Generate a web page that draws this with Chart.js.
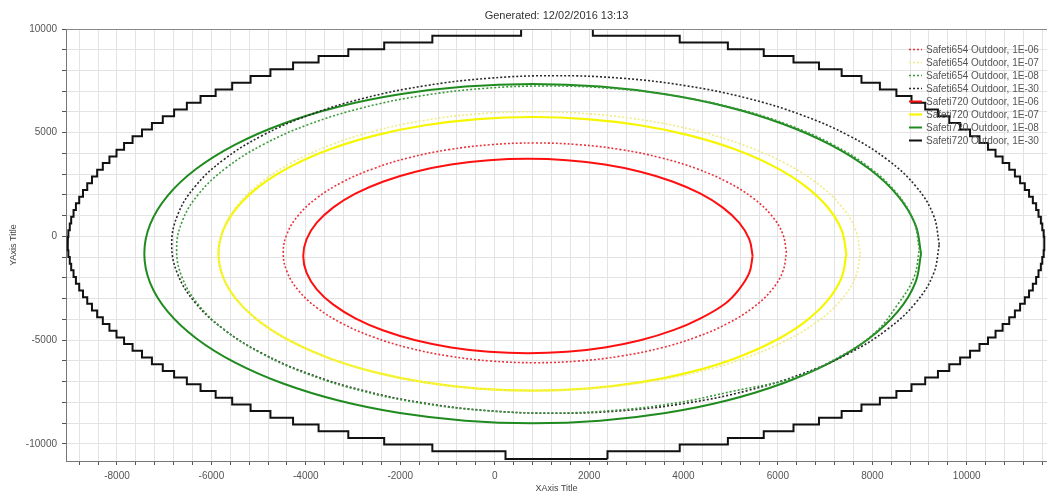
<!DOCTYPE html>
<html>
<head>
<meta charset="utf-8">
<script src="https://cdn.jsdelivr.net/npm/chart.js@4.4.0/dist/chart.umd.min.js"></script>
<style>
html,body{margin:0;padding:0;background:#fff;overflow:hidden}
#wrap{position:relative;width:1047px;height:493px}
</style>
</head>
<body>
<div id="wrap"><canvas id="c"></canvas></div>
<script>
// ---------- text ----------
const chartTitle = 'Generated: 12/02/2016 13:13';
const xAxisTitle = 'XAxis Title';
const yAxisTitle = 'YAxis Title';
const seriesNames = [
  'Safeti654 Outdoor, 1E-06',
  'Safeti654 Outdoor, 1E-07',
  'Safeti654 Outdoor, 1E-08',
  'Safeti654 Outdoor, 1E-30',
  'Safeti720 Outdoor, 1E-06',
  'Safeti720 Outdoor, 1E-07',
  'Safeti720 Outdoor, 1E-08',
  'Safeti720 Outdoor, 1E-30'
];
const xTickLabels = [-8000, -6000, -4000, -2000, 0, 2000, 4000, 6000, 8000, 10000];
const yTickLabels = [-10000, -5000, 0, 5000, 10000];
// axis ranges and grid spacing
const xRange = [-9080, 11700], xGridStep = 400;
const yRange = [-10820, 10000], yGridStep = 1000;

// ---------- contour data ----------
const s654e06X = [6182, 6101, 5861, 5468, 4935, 4278, 3517, 2675, 1777, 852, -73, -971, -1813, -2574, -3231, -3764, -4157, -4397, -4478, -4397, -4157, -3764, -3231, -2574, -1813, -971, -73, 852, 1777, 2675, 3517, 4278, 4935, 5468, 5861, 6101, 6182];
const s654e06Y = [-788, 131, 1023, 1859, 2615, 3267, 3797, 4187, 4426, 4506, 4426, 4187, 3797, 3267, 2615, 1859, 1023, 131, -788, -1707, -2599, -3435, -4191, -4843, -5373, -5763, -6002, -6082, -6002, -5763, -5373, -4843, -4191, -3435, -2599, -1707, -788];

const s654e07X = [7745, 7639, 7326, 6814, 6120, 5264, 4273, 3175, 2006, 800, -354, -1474, -2525, -3475, -4294, -4959, -5449, -5749, -5850, -5749, -5449, -4959, -4294, -3475, -2525, -1474, -354, 800, 2006, 3175, 4273, 5264, 6120, 6814, 7326, 7639, 7745];
const s654e07Y = [-836, 353, 1507, 2589, 3567, 4411, 5096, 5601, 5910, 6014, 5910, 5601, 5096, 4411, 3567, 2589, 1507, 353, -836, -1981, -3091, -4134, -5075, -5888, -6547, -7033, -7331, -7431, -7331, -7033, -6547, -5888, -5075, -4134, -3091, -1981, -836];

const s654e08X = [8997, 8877, 8523, 7943, 7156, 6187, 5064, 3821, 2496, 1130, -236, -1561, -2804, -3927, -4896, -5683, -6263, -6617, -6737, -6617, -6263, -5683, -4896, -3927, -2804, -1561, -236, 1130, 2496, 3821, 5064, 6350, 7300, 8050, 8523, 8877, 8997];
const s654e08Y = [-626, 742, 2069, 3314, 4439, 5410, 6198, 6779, 7134, 7254, 7134, 6779, 6198, 5410, 4439, 3314, 2069, 742, -626, -1994, -3321, -4566, -5691, -6662, -7450, -8031, -8386, -8506, -8386, -8031, -7450, -6800, -5800, -4650, -3321, -1994, -626];

const s654e30X = [9419, 9295, 8929, 8330, 7517, 6515, 5354, 4069, 2700, 1289, -122, -1491, -2776, -3937, -4939, -5752, -6351, -6717, -6841, -6717, -6351, -5752, -4939, -3937, -2776, -1491, -122, 1289, 2700, 4069, 5354, 6515, 7517, 8330, 8929, 9295, 9419];
const s654e30Y = [-385, 1027, 2397, 3683, 4844, 5846, 6660, 7259, 7626, 7750, 7626, 7259, 6660, 5846, 4844, 3683, 2397, 1027, -385, -1797, -3167, -4453, -5614, -6616, -7430, -8029, -8396, -8520, -8396, -8029, -7430, -6616, -5614, -4453, -3167, -1797, -385];

const s720e06X = [5465, 5393, 5178, 4827, 4351, 3765, 3085, 2333, 1531, 705, -121, -923, -1675, -2355, -2941, -3417, -3768, -3983, -4055, -3983, -3768, -3417, -2941, -2355, -1675, -923, -121, 705, 1531, 2333, 3085, 3800, 4351, 4880, 5178, 5393, 5465];
const s720e06Y = [-940, -126, 664, 1405, 2075, 2653, 3122, 3467, 3679, 3750, 3679, 3467, 3122, 2653, 2075, 1405, 664, -126, -940, -1754, -2544, -3285, -3955, -4533, -5002, -5347, -5559, -5630, -5559, -5347, -5002, -4500, -3955, -3240, -2544, -1754, -940];

const s720e07X = [7450, 7349, 7049, 6559, 5894, 5075, 4125, 3074, 1954, 800, -354, -1474, -2525, -3475, -4294, -4959, -5449, -5749, -5850, -5749, -5449, -4959, -4294, -3475, -2525, -1474, -354, 800, 1954, 3074, 4125, 5075, 5894, 6559, 7049, 7349, 7450];
const s720e07Y = [-836, 309, 1419, 2462, 3403, 4216, 4875, 5361, 5659, 5759, 5659, 5361, 4875, 4216, 3403, 2462, 1419, 309, -836, -1981, -3091, -4134, -5075, -5888, -6547, -7033, -7331, -7431, -7331, -7033, -6547, -5888, -5075, -4134, -3091, -1981, -836];

const s720e08X = [9033, 8908, 8537, 7931, 7108, 6094, 4920, 3620, 2234, 806, -622, -2008, -3308, -4482, -5496, -6319, -6925, -7296, -7421, -7296, -6925, -6319, -5496, -4482, -3308, -2008, -622, 806, 2234, 3620, 4920, 6094, 7108, 7931, 8537, 8908, 9033];
const s720e08Y = [-826, 593, 1970, 3262, 4429, 5436, 6254, 6856, 7225, 7349, 7225, 6856, 6254, 5436, 4429, 3262, 1970, 593, -826, -2245, -3622, -4914, -6081, -7088, -7906, -8508, -8877, -9001, -8877, -8508, -7906, -7088, -6081, -4914, -3622, -2245, -826];

// Safeti720 1E-30: grid contour, one horizontal run per y level (left and right end of the run)
const s720e30RowY = [-10720, -10353, -10030, -9707, -9384, -9061, -8738, -8415, -8092, -7769, -7446, -7123, -6800, -6477, -6154, -5831, -5508, -5185, -4862, -4539, -4216, -3893, -3570, -3247, -2924, -2601, -2278, -1955, -1632, -1309, -986, -663, -340, -17, 306, 629, 952, 1275, 1598, 1921, 2244, 2567, 2890, 3213, 3536, 3859, 4182, 4505, 4828, 5151, 5474, 5797, 6120, 6443, 6766, 7089, 7412, 7735, 8058, 8381, 8704, 9027, 9350, 9673, 9996];
const s720e30RowL = [230, -1320, -2340, -3100, -3730, -4270, -4750, -5170, -5560, -5910, -6230, -6520, -6790, -7030, -7260, -7470, -7670, -7850, -8010, -8160, -8300, -8420, -8530, -8630, -8720, -8800, -8870, -8920, -8970, -9000, -9030, -9040, -9050, -9040, -9030, -9000, -8970, -8920, -8870, -8800, -8720, -8630, -8530, -8420, -8300, -8160, -8010, -7850, -7670, -7470, -7260, -7030, -6790, -6520, -6230, -5910, -5560, -5170, -4750, -4270, -3730, -3100, -2340, -1320, 560];
const s720e30RowR = [2390, 3920, 4940, 5700, 6330, 6870, 7350, 7770, 8160, 8510, 8830, 9120, 9390, 9630, 9860, 10070, 10270, 10450, 10610, 10760, 10900, 11020, 11130, 11230, 11320, 11400, 11470, 11520, 11570, 11600, 11630, 11640, 11650, 11640, 11630, 11600, 11570, 11520, 11470, 11400, 11320, 11230, 11130, 11020, 10900, 10760, 10610, 10450, 10270, 10070, 9860, 9630, 9390, 9120, 8830, 8510, 8160, 7770, 7350, 6870, 6330, 5700, 4940, 3920, 2080];

// ---------- build datasets ----------
function pts(xs, ys) { return xs.map((x, i) => ({x: x, y: ys[i]})); }
// staircase outline through the ends of the horizontal runs (riser at the inner end)
function innerCorner(a, b, pickMin) {
  const aInner = pickMin ? a.x <= b.x : a.x >= b.x;
  return aInner ? {x: a.x, y: b.y} : {x: b.x, y: a.y};
}
function rowsToStairs(ys, ls, rs) {
  const right = ys.map((y, i) => ({x: rs[i], y: y}));
  const left = ys.map((y, i) => ({x: ls[i], y: y})).reverse();
  const out = [right[0]];
  for (let i = 1; i < right.length; i++) { out.push(innerCorner(right[i - 1], right[i], true)); out.push(right[i]); }
  out.push(left[0]);
  for (let i = 1; i < left.length; i++) { out.push(innerCorner(left[i - 1], left[i], false)); out.push(left[i]); }
  out.push(right[0]);
  return out;
}
function labelFor(list) {
  return function (v) {
    const r = Math.round(Number(v));
    return (Math.abs(Number(v) - r) < 0.5 && list.indexOf(r) !== -1) ? String(r) : '';
  };
}
function gridTicks(range, step) {
  const out = [];
  for (let v = Math.ceil(range[0] / step) * step; v <= range[1]; v += step) out.push({value: v});
  return out;
}

const FONT = "'Liberation Sans', Arial, sans-serif";
const styles = [
  {color: '#e8343c', width: 1.6, dash: [2, 2]},
  {color: '#f0ec86', width: 1.6, dash: [2, 2]},
  {color: '#3c9a3c', width: 1.6, dash: [2, 2]},
  {color: '#2a2a2a', width: 1.6, dash: [2, 2]},
  {color: '#ff1010', width: 2, dash: []},
  {color: '#f6f600', width: 2.2, dash: []},
  {color: '#1f8b1f', width: 2, dash: []},
  {color: '#111111', width: 2, dash: []}
];
const seriesData = [
  pts(s654e06X, s654e06Y),
  pts(s654e07X, s654e07Y),
  pts(s654e08X, s654e08Y),
  pts(s654e30X, s654e30Y),
  pts(s720e06X, s720e06Y),
  pts(s720e07X, s720e07Y),
  pts(s720e08X, s720e08Y),
  rowsToStairs(s720e30RowY, s720e30RowL, s720e30RowR)
];

const datasets = seriesNames.map((name, i) => ({
  label: name,
  data: seriesData[i],
  showLine: true,
  borderColor: styles[i].color,
  backgroundColor: styles[i].color,
  borderWidth: styles[i].width,
  borderDash: styles[i].dash,
  borderJoinStyle: i === 7 ? 'miter' : 'round',
  pointRadius: 0,
  pointHoverRadius: 0,
  tension: i === 7 ? 0 : 0.4,
  fill: false
}));

// legend drawn inside the plot area, top right
const insideLegend = {
  id: 'insideLegend',
  afterDatasetsDraw(chart) {
    const ctx = chart.ctx;
    const ca = chart.chartArea;
    ctx.save();
    ctx.font = '10px ' + FONT;
    ctx.textBaseline = 'middle';
    ctx.textAlign = 'left';
    chart.data.datasets.forEach((ds, i) => {
      const y = ca.top + 20.5 + i * 13;
      const x0 = ca.right - 138;
      ctx.beginPath();
      ctx.setLineDash(styles[i].dash);
      ctx.strokeStyle = styles[i].color;
      ctx.lineWidth = styles[i].width;
      ctx.moveTo(x0, y);
      ctx.lineTo(x0 + 13, y);
      ctx.stroke();
      ctx.setLineDash([]);
      ctx.fillStyle = '#555';
      ctx.fillText(ds.label, x0 + 17, y + 0.5);
    });
    ctx.restore();
  }
};
// plot frame top line + title centred over the plot area
const frameAndTitle = {
  id: 'frameAndTitle',
  afterDraw(chart) {
    const ctx = chart.ctx, ca = chart.chartArea;
    ctx.save();
    ctx.strokeStyle = '#8a8a8a';
    ctx.lineWidth = 1;
    ctx.beginPath();
    ctx.moveTo(ca.left, Math.round(ca.top) + 0.5);
    ctx.lineTo(ca.right, Math.round(ca.top) + 0.5);
    ctx.stroke();
    ctx.font = '11px ' + FONT;
    ctx.fillStyle = '#333';
    ctx.textAlign = 'center';
    ctx.textBaseline = 'middle';
    ctx.fillText(chartTitle, (ca.left + ca.right) / 2, 16);
    ctx.restore();
  }
};

new Chart(document.getElementById('c'), {
  type: 'scatter',
  data: {datasets: datasets},
  plugins: [insideLegend, frameAndTitle],
  options: {
    responsive: true,
    maintainAspectRatio: false,
    animation: false,
    layout: {padding: {top: 29, left: 0, right: 0, bottom: 0}},
    plugins: {
      legend: {display: false},
      tooltip: {enabled: false},
      title: {display: false}
    },
    scales: {
      x: {
        type: 'linear', min: xRange[0], max: xRange[1],
        afterBuildTicks(s) { s.ticks = gridTicks(xRange, xGridStep); },
        afterFit(s) { s.height = 32; s.paddingLeft = 0; s.paddingRight = 0; },
        ticks: {
          autoSkip: false, maxRotation: 0, minRotation: 0,
          padding: 5, color: '#555', font: {size: 10, family: FONT},
          callback: labelFor(xTickLabels)
        },
        grid: {color: '#e3e3e3', lineWidth: 1, tickColor: '#555', tickLength: 4, drawTicks: true},
        border: {display: true, color: '#777', width: 1},
        title: {display: true, text: xAxisTitle, color: '#444',
          font: {size: 9, family: FONT, lineHeight: 1}, padding: {top: 0, bottom: 0}}
      },
      y: {
        type: 'linear', min: yRange[0], max: yRange[1],
        afterBuildTicks(s) { s.ticks = gridTicks(yRange, yGridStep); },
        afterFit(s) { s.width = 66; },
        ticks: {
          autoSkip: false,
          padding: 5, color: '#555', font: {size: 10, family: FONT},
          callback: labelFor(yTickLabels)
        },
        grid: {color: '#e3e3e3', lineWidth: 1, tickColor: '#555', tickLength: 4, drawTicks: true},
        border: {display: true, color: '#777', width: 1},
        title: {display: true, text: yAxisTitle, color: '#444',
          font: {size: 9, family: FONT, lineHeight: 1}, padding: {top: 9.5, bottom: 0}}
      }
    }
  }
});
</script>
</body>
</html>
